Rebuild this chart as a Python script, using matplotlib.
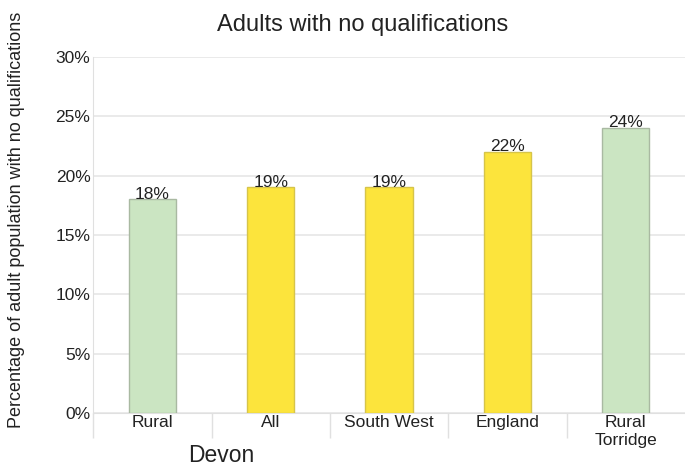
import numpy as np
import matplotlib.pyplot as plt
from matplotlib.ticker import FixedLocator

plt.rcParams['font.family'] = ['Liberation Sans', 'DejaVu Sans']

categories = ["Rural", "All", "South West", "England", "Rural\nTorridge"]
values = [18, 19, 19, 22, 24]
colors = ["#cbe5c2", "#fce43c", "#fce43c", "#fce43c", "#cbe5c2"]
edges = ["#a9b9a2", "#d6c44a", "#d6c44a", "#d6c44a", "#a9b9a2"]
yticks = [0, 5, 10, 15, 20, 25, 30]

fig = plt.figure(figsize=(6.85, 4.70), dpi=100)
ax = fig.add_axes([0.136, 0.121, 0.864, 0.758])

x = np.arange(len(categories))
bars = ax.bar(x, values, width=0.4, color=colors, edgecolor=edges, linewidth=1, zorder=3)
for b, v in zip(bars, values):
    ax.text(b.get_x() + b.get_width() / 2, v - 0.2, "%d%%" % v, ha="center", va="bottom",
            fontsize=12.5, color="#222222", zorder=4)

ax.set_xlim(-0.5, len(categories) - 0.5)
ax.set_ylim(0, 30)
ax.set_yticks(yticks)
ax.set_yticklabels(["%d%%" % t for t in yticks], fontsize=12.5, color="#222222")
ax.yaxis.grid(True, color="#e6e6e6", linewidth=1.2, zorder=0)
ax.tick_params(axis="y", length=0, pad=2)

ax.set_xticks(x)
ax.set_xticklabels(categories, fontsize=12.5, color="#222222", linespacing=1.25)
ax.tick_params(axis="x", which="major", length=0, pad=1)
ax.xaxis.set_minor_locator(FixedLocator(np.arange(-0.5, len(categories) - 0.5, 1)))
ax.tick_params(axis="x", which="minor", length=18, color="#e0e0e0", width=1)

for s in ["top", "right"]:
    ax.spines[s].set_visible(False)
ax.spines["left"].set_color("#e0e0e0")
ax.spines["bottom"].set_color("#e0e0e0")

fig.text(0.529, 0.934, "Adults with no qualifications", fontsize=17, color="#222222",
         ha="center", va="baseline")
fig.text(0.024, 0.532, "Percentage of adult population with no qualifications", fontsize=13,
         color="#222222", rotation=90, ha="center", va="center")
fig.text(0.323, 0.016, "Devon", fontsize=16.5, color="#222222", ha="center", va="baseline")

fig.savefig("out.png", dpi=100)
